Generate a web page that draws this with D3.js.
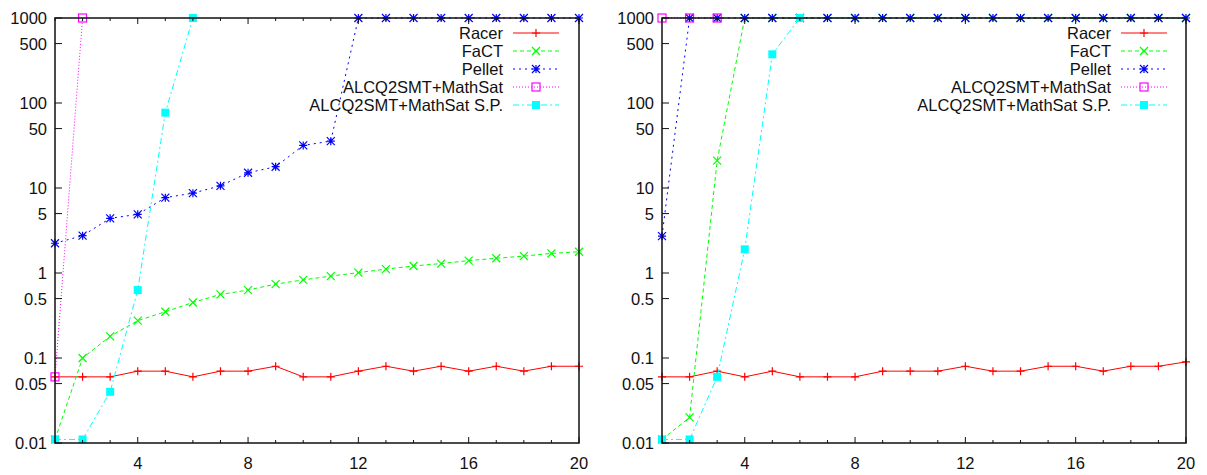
<!DOCTYPE html>
<html>
<head>
<meta charset="utf-8">
<script src="https://cdn.jsdelivr.net/npm/d3@7"></script>
<style>
  body { margin: 0; background: #fff; }
  text { font-family: "Liberation Sans", Arial, sans-serif; font-size: 16.5px; fill: #111; }
</style>
</head>
<body>
<script>
// x values 1..20 shared by both panels
var xs = [1,2,3,4,5,6,7,8,9,10,11,12,13,14,15,16,17,18,19,20];
var yTicks = [1000, 500, 100, 50, 10, 5, 1, 0.5, 0.1, 0.05, 0.01];
var xTickLabels = [4, 8, 12, 16, 20];
var seriesNames = ['Racer', 'FaCT', 'Pellet', 'ALCQ2SMT+MathSat', 'ALCQ2SMT+MathSat S.P.'];

// left panel
var racerL  = [0.06,0.06,0.06,0.07,0.07,0.06,0.07,0.07,0.08,0.06,0.06,0.07,0.08,0.07,0.08,0.07,0.08,0.07,0.08,0.08];
var factL   = [0.011,0.1,0.18,0.275,0.35,0.45,0.56,0.63,0.74,0.83,0.92,1.01,1.11,1.21,1.29,1.4,1.49,1.58,1.7,1.78];
var pelletL = [2.24,2.75,4.4,4.9,7.7,8.7,10.6,15.1,17.8,31.7,35.6,1000,1000,1000,1000,1000,1000,1000,1000,1000];
var mathL   = [0.06,1000];
var mathSpL = [0.011,0.011,0.04,0.63,77,1000];

// right panel
var racerR  = [0.06,0.06,0.07,0.06,0.07,0.06,0.06,0.06,0.07,0.07,0.07,0.08,0.07,0.07,0.08,0.08,0.07,0.08,0.08,0.09];
var factR   = [0.011,0.02,21,1000,1000,1000,1000,1000,1000,1000,1000,1000,1000,1000,1000,1000,1000,1000,1000,1000];
var pelletR = [2.72,1000,1000,1000,1000,1000,1000,1000,1000,1000,1000,1000,1000,1000,1000,1000,1000,1000,1000,1000];
var mathR   = [1000,1000,1000];
var mathSpR = [0.011,0.011,0.06,1.9,374,1000];

var colors = ['#ff0000', '#00ff00', '#0000ff', '#ff00ff', '#00ffff'];
var dashes = [null, '4,3', '2,4', '1,2', '6,3,2,3'];

var svg = d3.select('body').append('svg')
  .attr('width', 1207)
  .attr('height', 475);

var drawMarker = function(g, kind, x, y, color) {
  var s = 4;
  if (kind == 0) {
    g.append('path').attr('d', 'M'+(x-s)+','+y+'H'+(x+s)+'M'+x+','+(y-s)+'V'+(y+s))
      .attr('stroke', color).attr('stroke-width', 1.2);
  } else if (kind == 1) {
    g.append('path').attr('d', 'M'+(x-s)+','+(y-s)+'L'+(x+s)+','+(y+s)+'M'+(x-s)+','+(y+s)+'L'+(x+s)+','+(y-s))
      .attr('stroke', color).attr('stroke-width', 1.2);
  } else if (kind == 2) {
    g.append('path').attr('d', 'M'+(x-s)+','+y+'H'+(x+s)+'M'+x+','+(y-s)+'V'+(y+s)+
        'M'+(x-s)+','+(y-s)+'L'+(x+s)+','+(y+s)+'M'+(x-s)+','+(y+s)+'L'+(x+s)+','+(y-s))
      .attr('stroke', color).attr('stroke-width', 1.2);
  } else if (kind == 3) {
    g.append('rect').attr('x', x-s).attr('y', y-s).attr('width', 2*s).attr('height', 2*s)
      .attr('fill', 'none').attr('stroke', color).attr('stroke-width', 1.2);
  } else {
    g.append('rect').attr('x', x-s).attr('y', y-s).attr('width', 2*s).attr('height', 2*s)
      .attr('fill', color);
  }
};

var drawPanel = function(left, right, data, legendRight) {
  var top = 18, bottom = 443;
  var x = d3.scaleLinear().domain([1, 20]).range([left, right]);
  var y = d3.scaleLog().domain([0.01, 1000]).range([bottom, top]);
  var g = svg.append('g');

  // series
  var line = d3.line().x(function(d) { return x(d[0]); }).y(function(d) { return y(d[1]); });
  data.forEach(function(vals, i) {
    var pts = vals.map(function(v, j) { return [xs[j], v]; });
    g.append('path').datum(pts)
      .attr('d', line)
      .attr('fill', 'none')
      .attr('stroke', colors[i])
      .attr('stroke-width', 1)
      .attr('stroke-dasharray', dashes[i]);
    pts.forEach(function(p) { drawMarker(g, i, x(p[0]), y(p[1]), colors[i]); });
  });

  // border
  g.append('path')
    .attr('d', 'M'+left+','+top+'V'+bottom+'H'+right+'V'+top+'Z')
    .attr('fill', 'none').attr('stroke', '#111').attr('stroke-width', 1.5);

  // y ticks
  yTicks.forEach(function(t) {
    g.append('line').attr('x1', left).attr('x2', left + 7)
      .attr('y1', y(t)).attr('y2', y(t)).attr('stroke', '#111');
    g.append('text').attr('x', left - 8).attr('y', y(t)).attr('dy', '0.36em')
      .attr('text-anchor', 'end').text(t);
  });

  // x ticks, top and bottom
  xs.forEach(function(v) {
    var len = xTickLabels.indexOf(v) >= 0 ? 6 : 3;
    g.append('line').attr('x1', x(v)).attr('x2', x(v))
      .attr('y1', bottom).attr('y2', bottom - len).attr('stroke', '#111');
    g.append('line').attr('x1', x(v)).attr('x2', x(v))
      .attr('y1', top).attr('y2', top + len).attr('stroke', '#111');
  });
  xTickLabels.forEach(function(v) {
    g.append('text').attr('x', x(v)).attr('y', 463).attr('dy', '0.36em')
      .attr('text-anchor', 'middle').text(v);
  });

  // legend
  seriesNames.forEach(function(name, i) {
    var ly = 33 + i * 18;
    g.append('text').attr('x', legendRight).attr('y', ly).attr('dy', '0.36em')
      .attr('text-anchor', 'end').text(name);
    g.append('line').attr('x1', legendRight + 10).attr('x2', legendRight + 56)
      .attr('y1', ly).attr('y2', ly)
      .attr('stroke', colors[i]).attr('stroke-width', 1)
      .attr('stroke-dasharray', dashes[i]);
    drawMarker(g, i, legendRight + 33, ly, colors[i]);
  });
};

drawPanel(55, 579, [racerL, factL, pelletL, mathL, mathSpL], 503);
drawPanel(662, 1186, [racerR, factR, pelletR, mathR, mathSpR], 1111);
</script>
</body>
</html>
